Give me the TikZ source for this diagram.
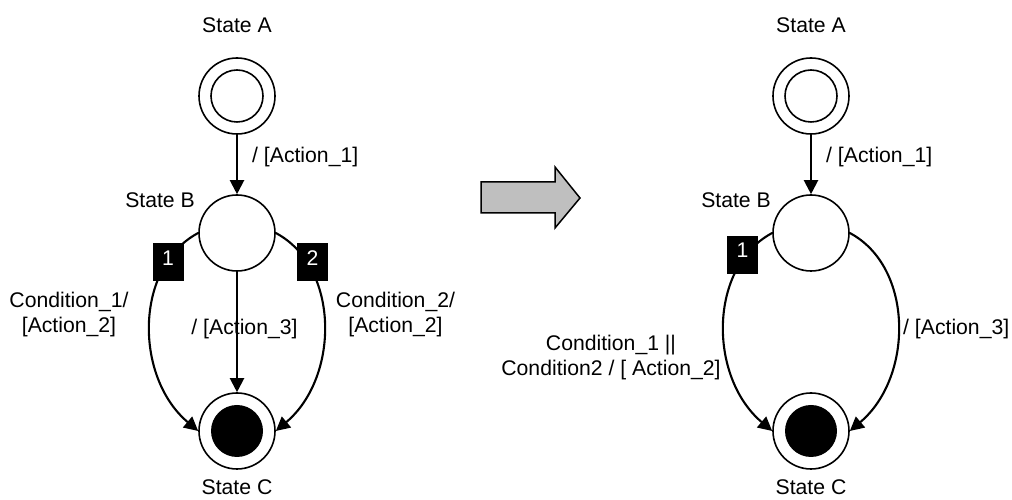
\documentclass[tikz,border=0pt]{standalone}
\usepackage{fontspec}
\setmainfont{Liberation Sans}
\usetikzlibrary{arrows.meta, positioning}

\begin{document}
\begin{tikzpicture}[
    x=1pt, y=1pt,
    state/.style={circle, draw, line width=1.6pt, minimum size=76pt, inner sep=0pt},
    trans/.style={-{Triangle[length=14pt, width=14pt]}, line width=2.1pt},
    txt/.style={font=\fontsize{21.2}{25}\selectfont, inner sep=0pt, align=center},
    tag/.style={rectangle, fill=black, text=white, font=\fontsize{21.2}{25}\selectfont,
                minimum width=31pt, inner sep=0pt, text height=22pt, text depth=16pt},
  ]
  \useasboundingbox (0,0) rectangle (1012,500);

  % the three states, same for both charts
  \foreach \s/\x in {l/237, r/811} {
    \node[state] (a\s) at (\x,404) {};
    \draw[line width=1.6pt] (a\s.center) circle[radius=26pt];
    \node[state] (b\s) at (\x,267) {};
    \node[state] (c\s) at (\x,69) {};
    \fill (c\s.center) circle[radius=26pt];

    \node[txt, anchor=base] (na\s) at (\x,467) {State A};
    \node[txt, anchor=base] (nc\s) at (\x,5) {State C};
    \node[txt, anchor=base west] (act1\s) at ([xshift=15pt]\x,337) {/ [Action\_1]};

    \draw[trans] (a\s) -- (b\s);
  }
  \node[txt, anchor=base east] (nbl) at (195,292) {State B};
  \node[txt, anchor=base east] (nbr) at (771,292) {State B};

  % before: three transitions out of B
  \draw[trans] (bl.west) .. controls +(-64,-34) and +(-64,54) .. (cl.west);
  \draw[trans] (bl.east) .. controls +(64,-34) and +(64,54) .. (cl.east);
  \draw[trans] (bl) -- (cl);
  \node[tag] (t1l) at (168,237.5) {1};
  \node[tag] (t2l) at (312.5,237.5) {2};
  \node[txt] (cond1) at (69,185) {Condition\_1/\\{}[Action\_2]};
  \node[txt] (cond2) at (395.5,185) {Condition\_2/\\{}[Action\_2]};
  \node[txt, anchor=base] (act3l) at (244.5,165) {/ [Action\_3]};

  % merge arrow
  \draw[line width=1.5pt, fill=gray!50] (481,318) -- (555,318) -- (555,333) -- (580,302)
    -- (555,272) -- (555,287) -- (481,287) -- cycle;

  % after: conditions merged into one transition
  \draw[trans] (br.west) .. controls +(-64,-34) and +(-64,54) .. (cr.west);
  \draw[trans] (br.east) .. controls +(64,-34) and +(64,54) .. (cr.east);
  \node[tag] (t1r) at (742.5,245) {1};
  \node[txt] (cond12) at (611,142) {Condition\_1 ||\\Condition2 / [ Action\_2]};
  \node[txt, anchor=base west] (act3r) at (903,165) {/ [Action\_3]};
\end{tikzpicture}
\end{document}
